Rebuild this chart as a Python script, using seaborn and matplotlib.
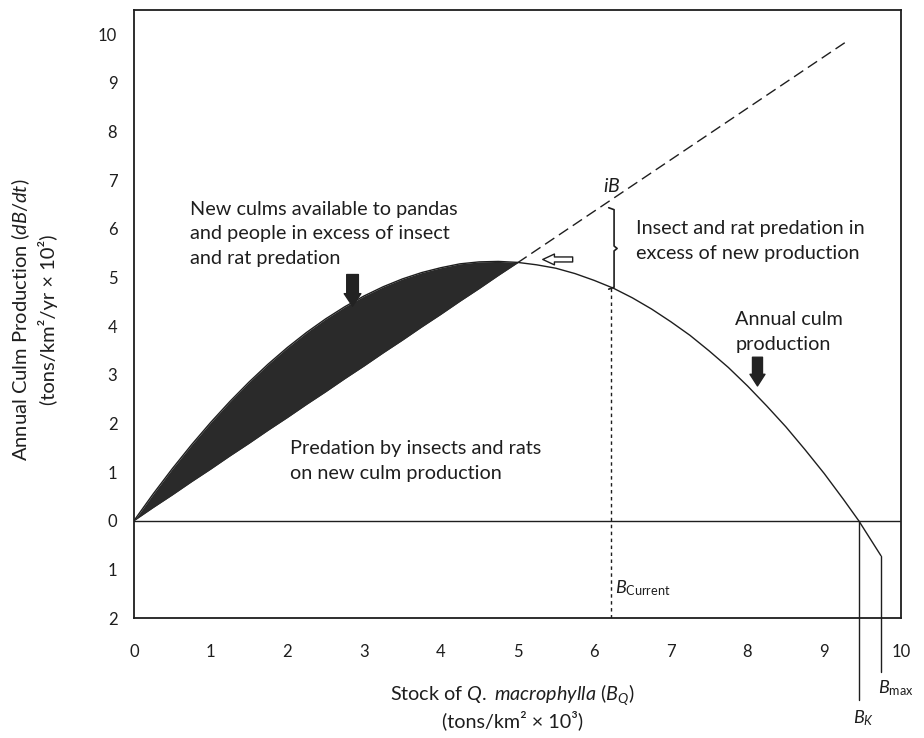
import matplotlib
matplotlib.use("Agg")
import matplotlib.pyplot as plt
import numpy as np
import seaborn as sns

sns.set_theme(style="white")
plt.rcParams['font.family'] = ['Lato', 'DejaVu Sans']
plt.rcParams['mathtext.fontset'] = 'custom'
plt.rcParams['mathtext.rm'] = 'Lato'
plt.rcParams['mathtext.it'] = 'Lato:italic'
plt.rcParams['mathtext.bf'] = 'Lato:bold'

INK = '#1e1e1e'

# annual culm production curve
stock = [0, 0.25, 0.5, 0.75, 1.0, 1.25, 1.5, 1.75, 2.0, 2.25, 2.5,
         2.75, 3.0, 3.25, 3.5, 3.75, 4.0, 4.25, 4.5, 4.75, 5.0,
         5.25, 5.5, 5.75, 6.0, 6.25, 6.5, 6.75, 7.0, 7.25, 7.5,
         7.75, 8.0, 8.25, 8.5, 8.75, 9.0, 9.25, 9.45, 9.74]
production = [0, 0.55, 1.07, 1.56, 2.02, 2.45, 2.85, 3.22, 3.56, 3.87, 4.15,
              4.40, 4.62, 4.81, 4.97, 5.10, 5.20, 5.28, 5.32, 5.33, 5.31,
              5.26, 5.19, 5.08, 4.94, 4.78, 4.58, 4.35, 4.09, 3.81, 3.49,
              3.15, 2.77, 2.36, 1.93, 1.46, 0.97, 0.44, 0.0, -0.72]

# insect and rat predation line iB (solid edge of the black wedge)
predation = [0, 0.27, 0.53, 0.80, 1.06, 1.33, 1.59, 1.86, 2.12, 2.39, 2.65,
             2.92, 3.18, 3.45, 3.71, 3.98, 4.24, 4.51, 4.77, 5.04, 5.30]
# dashed continuation of iB
ib_x = [5.0, 9.32]
ib_y = [5.30, 9.88]

b_current = 6.22
b_k = 9.45
b_max = 9.74

y_ticks = list(range(-2, 11))
y_tick_labels = [str(abs(v)) for v in y_ticks]
x_ticks = list(range(0, 11))

fig = plt.figure(figsize=(9.24, 7.38), dpi=100)
ax = fig.add_axes([0.145, 0.1626, 0.830, 0.824])

n_fill = len(predation)
ax.fill_between(stock[:n_fill], predation, production[:n_fill],
                color='#2a2a2a', lw=0)
sns.lineplot(x=stock, y=production, ax=ax, color=INK, lw=1.0)
sns.lineplot(x=stock[:n_fill], y=predation, ax=ax, color='#2a2a2a', lw=0.8)
ax.plot(ib_x, ib_y, color=INK, lw=1.0, dashes=(8, 4))
ax.axhline(0, color=INK, lw=1.0)

# B current: dashed drop line and brace between curve and iB
y_cur = np.interp(b_current, stock, production)
y_ib = np.interp(b_current, ib_x, ib_y) - 0.2
ax.plot([b_current, b_current], [-2, y_cur], color=INK, lw=1.0, dashes=(2.5, 2.5))
bx = b_current + 0.04
ym = (y_cur + y_ib) / 2
ax.plot([bx - 0.07, bx, bx, bx + 0.04, bx, bx, bx - 0.07],
        [y_ib + 0.04, y_ib, ym + 0.05, ym, ym - 0.05, y_cur, y_cur - 0.04],
        color=INK, lw=1.2)

# B_K and B_max drop lines below the axes
ax.plot([b_k, b_k], [0, -3.69], color=INK, lw=1.0, clip_on=False)
ax.plot([b_max, b_max], [production[-1], -3.11], color=INK, lw=1.0, clip_on=False)

# arrows
ax.annotate('', xy=(5.33, 5.37), xytext=(5.72, 5.37),
            arrowprops=dict(arrowstyle='simple,head_length=0.7,head_width=0.65,tail_width=0.3',
                            fc='white', ec=INK, lw=1.0, shrinkA=0, shrinkB=0))
ax.annotate('', xy=(2.85, 4.41), xytext=(2.85, 5.06),
            arrowprops=dict(arrowstyle='simple,head_length=0.75,head_width=1.0,tail_width=0.7',
                            fc='#222222', ec='#222222', shrinkA=0, shrinkB=0))
ax.annotate('', xy=(8.13, 2.77), xytext=(8.13, 3.36),
            arrowprops=dict(arrowstyle='simple,head_length=0.7,head_width=0.9,tail_width=0.6',
                            fc='#222222', ec='#222222', shrinkA=0, shrinkB=0))

# annotations
txt = dict(color=INK, fontsize=14.3, linespacing=1.55, va='top', ha='left')
ax.text(0.73, 6.58, "New culms available to pandas\nand people in excess of insect\nand rat predation", **txt)
ax.text(6.55, 6.18, "Insect and rat predation in\nexcess of new production", **txt)
ax.text(7.84, 4.31, "Annual culm\nproduction", **txt)
ax.text(2.03, 1.65, "Predation by insects and rats\non new culm production", **txt)
ax.text(6.23, 6.87, "$iB$", color=INK, fontsize=14, ha='center', va='center')
ax.text(6.27, -1.38, r"$B_{\mathrm{Current}}$", color=INK, fontsize=13, ha='left', va='center')
ax.text(9.70, -3.44, r"$B_{\mathrm{max}}$", color=INK, fontsize=13, ha='left', va='center',
        clip_on=False)
ax.text(9.37, -4.06, r"$B_K$", color=INK, fontsize=13, ha='left', va='center', clip_on=False)

ax.set_xlim(0, 10)
ax.set_ylim(-2, 10.5)
ax.set_xticks(x_ticks)
ax.set_xticklabels([str(v) for v in x_ticks])
ax.set_yticks(y_ticks)
ax.set_yticklabels(y_tick_labels)
ax.tick_params(axis='both', direction='in', length=11, width=1.2, colors=INK, labelsize=12)
ax.tick_params(axis='x', pad=19)
ax.tick_params(axis='y', pad=12)
for side in ['left', 'right', 'top', 'bottom']:
    ax.spines[side].set_visible(True)
    ax.spines[side].set_color(INK)
    ax.spines[side].set_linewidth(1.3)

ax.set_xlabel("Stock of $\\it{Q.}$ $\\it{macrophylla}$ ($B_Q$)\n(tons/km² × 10³)",
              fontsize=14.2, color=INK, linespacing=1.15)
ax.xaxis.set_label_coords(0.493, -0.106)
ax.set_ylabel("Annual Culm Production ($dB/dt$)\n(tons/km²/yr × 10²)",
              fontsize=14.5, color=INK, linespacing=1.35)
ax.yaxis.set_label_coords(-0.099, 0.49)

fig.savefig("out.png", dpi=100)
